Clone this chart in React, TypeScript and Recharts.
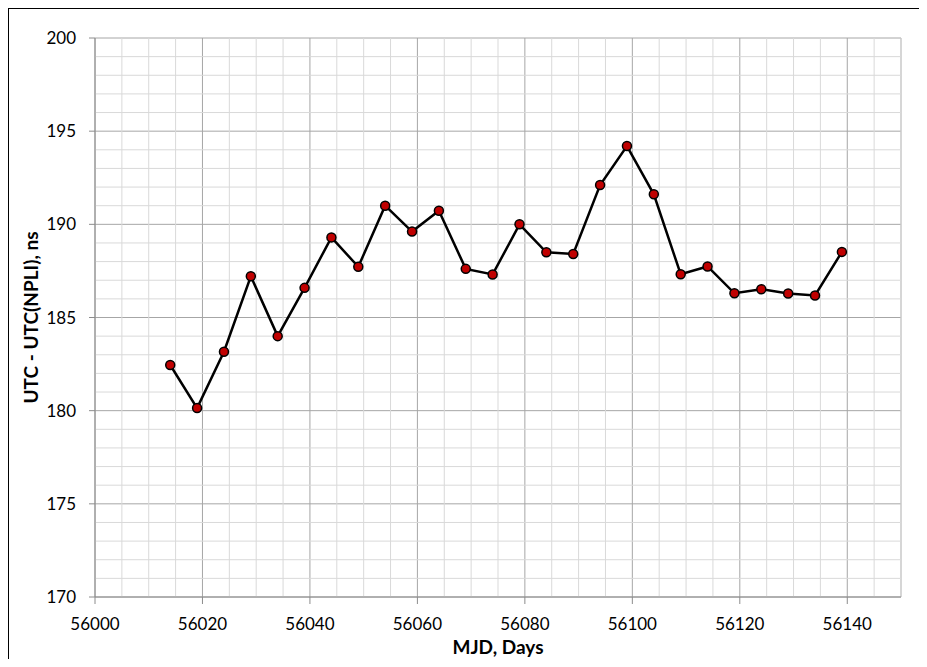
import { CartesianGrid, Label, Line, LineChart, ReferenceLine, XAxis, YAxis } from "recharts";

const mjd = [
    56014, 56019, 56024, 56029, 56034, 56039, 56044, 56049, 56054, 56059, 56064, 56069, 56074,
    56079, 56084, 56089, 56094, 56099, 56104, 56109, 56114, 56119, 56124, 56129, 56134, 56139,
];
const offsetNs = [
    182.45, 180.14, 183.16, 187.21, 184.0, 186.59, 189.3, 187.72, 191.0, 189.61, 190.73, 187.61, 187.31,
    190.0, 188.5, 188.41, 192.11, 194.2, 191.61, 187.32, 187.74, 186.3, 186.52, 186.29, 186.18, 188.52,
];

const xTicks = [56000, 56020, 56040, 56060, 56080, 56100, 56120, 56140];
const yTicks = [170, 175, 180, 185, 190, 195, 200];
const xMinor = [
    56005, 56010, 56015, 56025, 56030, 56035, 56045, 56050, 56055, 56065, 56070, 56075,
    56085, 56090, 56095, 56105, 56110, 56115, 56125, 56130, 56135, 56145, 56150,
];
const yMinor = [
    171, 172, 173, 174, 176, 177, 178, 179, 181, 182, 183, 184, 186, 187, 188, 189,
    191, 192, 193, 194, 196, 197, 198, 199,
];

const data = mjd.map((d, i) => ({ mjd: d, value: offsetNs[i] }));

const FONT = "Lato, 'Open Sans', sans-serif";
const AXIS = "#8c8c8c";
const MINOR = "#d9d9d9";

const YTitle = ({ viewBox }: any) => {
    const x = viewBox.x + 30;
    const y = viewBox.y + viewBox.height / 2;
    return (
        <text
            x={x}
            y={y}
            transform={`rotate(-90 ${x} ${y})`}
            textAnchor="middle"
            dominantBaseline="central"
            style={{ fontFamily: FONT, fontSize: 19, fontWeight: 700, fill: "#000" }}
        >
            UTC - UTC(NPLI), ns
        </text>
    );
};

export default function App() {
    return (
        <div style={{ position: "relative", margin: -8, width: 927, height: 667, overflow: "hidden", background: "#fff" }}>
            <div
                style={{
                    position: "absolute",
                    left: 6,
                    top: 6,
                    right: -20,
                    bottom: -20,
                    borderTop: "3px solid #000",
                    borderLeft: "3px solid #000",
                }}
            />
            <div style={{ position: "absolute", left: 0, top: 0 }}>
                <LineChart width={927} height={667} data={data} margin={{ top: 38, right: 26, left: 0, bottom: 0 }}>
                    {xMinor.map((v) => (
                        <ReferenceLine key={`vx-${v}`} x={v} stroke={MINOR} strokeWidth={1} ifOverflow="extendDomain" />
                    ))}
                    {yMinor.map((v) => (
                        <ReferenceLine key={`hy-${v}`} y={v} stroke={MINOR} strokeWidth={1} />
                    ))}
                    <CartesianGrid stroke="#a6a6a6" strokeWidth={1} />
                    <XAxis
                        dataKey="mjd"
                        type="number"
                        domain={[56000, 56150]}
                        ticks={xTicks}
                        interval={0}
                        height={70}
                        stroke={AXIS}
                        tickSize={7}
                        tickMargin={14}
                        tick={{ fill: "#000", fontFamily: FONT, fontSize: 17 }}
                        allowDataOverflow
                    >
                        <Label
                            value="MJD, Days"
                            position="insideBottom"
                            offset={13}
                            style={{ fontFamily: FONT, fontSize: 19, fontWeight: 700, fill: "#000" }}
                        />
                    </XAxis>
                    <YAxis
                        type="number"
                        domain={[170, 200]}
                        ticks={yTicks}
                        interval={0}
                        width={95}
                        stroke={AXIS}
                        tickSize={6}
                        tickMargin={13}
                        tick={{ fill: "#000", fontFamily: FONT, fontSize: 17 }}
                        allowDataOverflow
                    >
                        <Label content={YTitle} />
                    </YAxis>
                    <Line
                        type="linear"
                        dataKey="value"
                        stroke="#000"
                        strokeWidth={2.5}
                        dot={{ r: 4.5, fill: "#c00000", stroke: "#000", strokeWidth: 1.5 }}
                        isAnimationActive={false}
                    />
                </LineChart>
            </div>
        </div>
    );
}
